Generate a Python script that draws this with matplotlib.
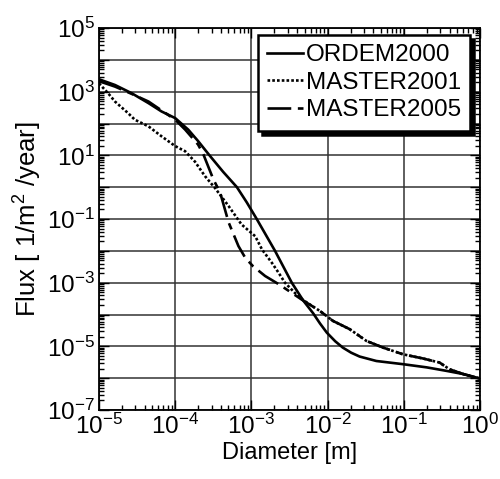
import numpy as np
import matplotlib
matplotlib.use("Agg")
import matplotlib.pyplot as plt
from matplotlib.ticker import LogLocator, FuncFormatter, NullFormatter

plt.rcParams["font.family"] = ["Liberation Sans", "DejaVu Sans"]

# log10 of diameter [m] and flux [1/m^2/year]
ordem_logd = [-5.0, -4.79, -4.57, -4.35, -4.18, -4.0, -3.83, -3.70, -3.55, -3.37, -3.19,
              -3.06, -2.93, -2.81, -2.69, -2.58, -2.47, -2.32, -2.19, -2.10, -2.01, -1.90,
              -1.80, -1.69, -1.58, -1.36, -1.01, -0.70, -0.44, -0.22, 0.0]
ordem_logf = [3.39, 3.21, 2.95, 2.64, 2.38, 2.17, 1.81, 1.45, 1.00, 0.48, 0.0,
              -0.48, -1.00, -1.50, -2.00, -2.50, -3.00, -3.56, -3.96, -4.28, -4.57, -4.84,
              -5.04, -5.20, -5.32, -5.46, -5.56, -5.66, -5.77, -5.87, -6.01]

m2001_logd = [-5.0, -4.88, -4.79, -4.62, -4.53, -4.35, -4.18, -4.0, -3.87, -3.74, -3.61,
              -3.48, -3.30, -3.13, -2.95, -2.86, -2.73, -2.64, -2.56, -2.43, -2.32, -2.10,
              -1.93, -1.71, -1.49, -1.27, -1.01, -0.75, -0.53, -0.40, -0.22, 0.0]
m2001_logf = [3.26, 2.95, 2.69, 2.33, 2.12, 1.91, 1.60, 1.29, 1.13, 0.80, 0.35,
              -0.02, -0.59, -1.17, -1.54, -1.96, -2.38, -2.70, -3.00, -3.32, -3.55, -3.89,
              -4.20, -4.46, -4.83, -5.04, -5.25, -5.38, -5.51, -5.72, -5.87, -6.01]

m2005_logd = [-5.0, -4.79, -4.57, -4.35, -4.0, -3.87, -3.70, -3.63, -3.50, -3.41, -3.30,
              -3.17, -3.08, -2.98, -2.82, -2.64, -2.47, -2.34, -2.10, -1.93, -1.71,
              -1.49, -1.27, -1.01, -0.75, -0.53, -0.40, -0.22, 0.0]
m2005_logf = [3.33, 3.16, 2.93, 2.69, 2.12, 1.81, 1.34, 1.03, 0.25, -0.17, -1.10,
              -1.85, -2.22, -2.48, -2.79, -3.05, -3.32, -3.53, -3.89, -4.20, -4.46,
              -4.83, -5.04, -5.25, -5.38, -5.51, -5.72, -5.87, -6.01]

labels = ["ORDEM2000", "MASTER2001", "MASTER2005"]

fig = plt.figure(figsize=(5.0, 4.79), dpi=100)
ax = fig.add_axes([0.198, 0.144, 0.762, 0.7975])

ax.plot(10 ** np.array(ordem_logd), 10 ** np.array(ordem_logf), color="black", lw=1.9,
        ls="-", label=labels[0])
ax.plot(10 ** np.array(m2001_logd), 10 ** np.array(m2001_logf), color="black", lw=1.9,
        ls=(0, (1.0, 0.8)), label=labels[1])
ax.plot(10 ** np.array(m2005_logd), 10 ** np.array(m2005_logf), color="black", lw=1.9,
        ls=(0, (9, 2.5, 2.5, 2.5)), label=labels[2])

ax.set_xscale("log")
ax.set_yscale("log")
ax.set_xlim(1e-5, 1e0)
ax.set_ylim(1e-7, 1e5)

ax.xaxis.set_major_locator(LogLocator(base=10, numticks=20))
ax.yaxis.set_major_locator(LogLocator(base=10, numticks=20))
ax.xaxis.set_minor_locator(LogLocator(base=10, subs=np.arange(2, 10), numticks=100))
ax.yaxis.set_minor_locator(LogLocator(base=10, subs=np.arange(2, 10), numticks=100))
ax.xaxis.set_minor_formatter(NullFormatter())
ax.yaxis.set_minor_formatter(NullFormatter())


def _fmt(v, pos, odd_only=False):
    e = int(round(np.log10(v)))
    if odd_only and e % 2 == 0:
        return ""
    return r"$\mathregular{10^{%d}}$" % e


ax.xaxis.set_major_formatter(FuncFormatter(lambda v, p: _fmt(v, p)))
ax.yaxis.set_major_formatter(FuncFormatter(lambda v, p: _fmt(v, p, odd_only=True)))

ax.tick_params(which="both", direction="in", top=True, right=True, labelsize=17.5, width=1.0)
ax.tick_params(which="major", length=7, pad=3)
ax.tick_params(which="minor", length=3.5)
ax.grid(True, which="major", color="#333333", lw=1.1)
for s in ax.spines.values():
    s.set_linewidth(1.3)

ax.set_xlabel("Diameter [m]", fontsize=17, labelpad=2)
ax.set_ylabel(r"Flux [ 1/m$\mathregular{^2}$ /year]", fontsize=18.5, labelpad=2)

leg = ax.legend(loc="upper right", bbox_to_anchor=(0.974, 0.982), fontsize=17.5,
                handlelength=1.5, handletextpad=0.1, borderpad=0.38, labelspacing=0.23,
                borderaxespad=0.0, fancybox=False,
                shadow={"color": "black", "alpha": 1.0, "ox": 3, "oy": -3}, framealpha=1.0)
leg.get_frame().set_edgecolor("black")
leg.get_frame().set_linewidth(1.8)

fig.savefig("out.png", dpi=100)
